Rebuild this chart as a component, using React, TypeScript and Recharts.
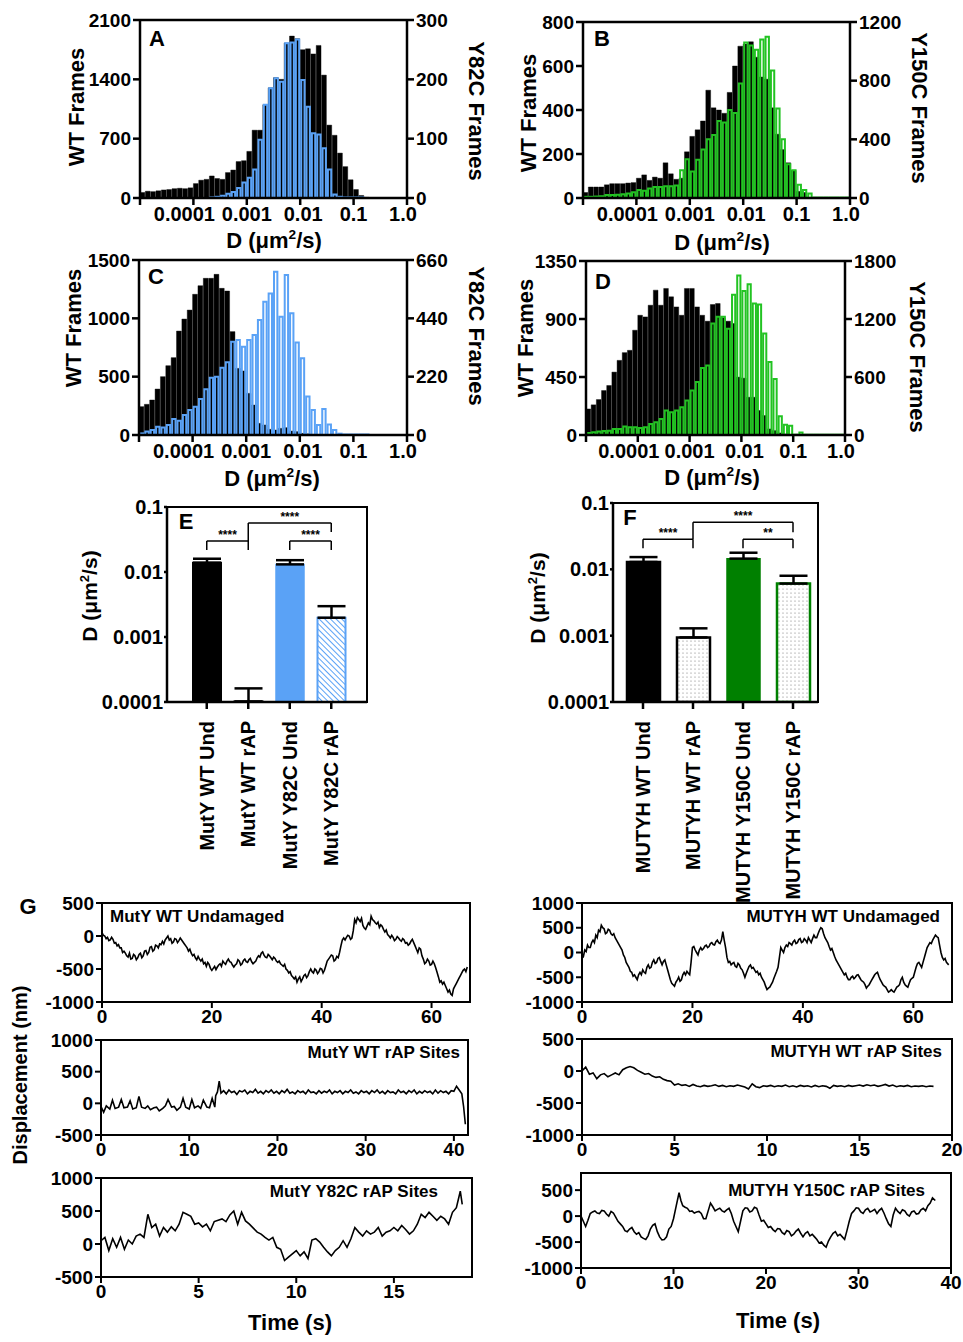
import React from 'react';
import {
  ComposedChart, BarChart, LineChart, Bar, Line, XAxis, YAxis,
  ReferenceLine, ReferenceArea, ErrorBar, Cell,
} from 'recharts';

const FONT = '"Liberation Sans", Arial, Helvetica, sans-serif';
const tick = { fill: '#000', fontSize: 19, fontWeight: 700, fontFamily: FONT };
const eTick = { fill: '#000', fontSize: 20, fontWeight: 700, fontFamily: FONT };
const gTick = { fill: '#000', fontSize: 19, fontWeight: 700, fontFamily: FONT };
const axisLine = { stroke: '#000', strokeWidth: 2.5 };

// histogram bins, 10 per decade from 1e-5 to 1 um2/s
const binTicks = [0, 10, 20, 30, 40, 50];
const binTickLabels = ['', '0.0001', '0.001', '0.01', '0.1', '1.0'];

const aWT = [65, 80, 75, 85, 95, 100, 110, 115, 110, 120, 170, 210, 220, 260, 230, 220, 300, 330, 430, 440,
  550, 800, 800, 1100, 1300, 1420, 1400, 1830, 1910, 1880, 1750, 1760, 1700, 1800, 1450, 860, 740, 530, 370, 215,
  100, 30, 8, 0, 0, 0, 0, 0, 0, 0];
const aY82C = [0, 0, 0, 0, 0, 0, 0, 0, 0, 0, 0, 0, 0, 1, 2, 4, 7, 10, 17, 26,
  34, 48, 98, 157, 185, 202, 196, 261, 262, 267, 199, 154, 109, 107, 84, 48, 6, 2, 1, 1,
  1, 1, 0, 0, 0, 0, 0, 0, 0, 0];

const bWT = [25, 50, 50, 50, 60, 65, 65, 65, 68, 70, 90, 105, 80, 95, 90, 160, 110, 85, 90, 210,
  280, 310, 350, 490, 410, 400, 385, 480, 600, 690, 700, 710, 640, 550, 540, 410, 290, 220, 160, 125,
  30, 25, 0, 0, 0, 0, 0, 0, 0, 0];
const bY150C = [8, 8, 10, 12, 20, 20, 22, 25, 30, 40, 55, 50, 65, 75, 75, 80, 80, 85, 190, 265,
  180, 260, 330, 400, 430, 525, 515, 600, 580, 780, 1060, 1040, 1010, 1080, 1100, 870, 610, 400, 230, 190,
  90, 55, 30, 3, 3, 3, 3, 3, 3, 3];

const cWT = [243, 263, 300, 394, 500, 594, 663, 891, 994, 1071, 1206, 1280, 1343, 1343, 1377, 1257, 1234, 886, 571, 549,
  357, 257, 100, 86, 49, 43, 57, 63, 34, 29, 14, 10, 5, 0, 0, 0, 0, 0, 0, 0,
  0, 0, 0, 0, 0, 0, 0, 0, 0, 0];
const cY82C = [6, 13, 19, 31, 28, 38, 60, 54, 75, 94, 107, 136, 173, 216, 220, 254, 274, 352, 358, 333,
  358, 377, 434, 503, 534, 616, 446, 603, 459, 349, 289, 145, 94, 38, 98, 40, 19, 5, 2, 2,
  2, 2, 2, 0, 0, 0, 0, 0, 0, 0];

const dWT = [202, 234, 275, 345, 384, 488, 579, 639, 657, 813, 929, 916, 1007, 1124, 1007, 1137, 1072, 994, 929, 1137,
  1137, 994, 929, 883, 1012, 1020, 909, 883, 865, 449, 441, 293, 293, 190, 151, 47, 34, 16, 8, 4,
  0, 0, 0, 0, 0, 0, 0, 0, 0, 0];
const dY150C = [21, 28, 35, 42, 45, 62, 62, 87, 80, 80, 73, 80, 114, 132, 166, 253, 235, 253, 287, 357,
  460, 547, 692, 720, 1153, 1222, 1222, 1100, 1450, 1650, 1490, 1560, 1360, 1350, 1050, 755, 580, 195, 105, 95,
  3, 25, 3, 3, 3, 3, 3, 3, 3, 3];

// bar panels E / F
const eNames = ['MutY WT Und', 'MutY WT rAP', 'MutY Y82C Und', 'MutY Y82C rAP'];
const eMeans = [0.0139, 0.000102, 0.0131, 0.00198];
const eErrUp = [0.0021, 0.00006, 0.0021, 0.001];
const fNames = ['MUTYH WT Und', 'MUTYH WT rAP', 'MUTYH Y150C Und', 'MUTYH Y150C rAP'];
const fMeans = [0.0129, 0.00094, 0.0145, 0.0061];
const fErrUp = [0.0024, 0.00035, 0.0033, 0.0019];
const logTicks = [0.0001, 0.001, 0.01, 0.1];
const logTickLabels = ['0.0001', '0.001', '0.01', '0.1'];

const eBrackets = [
  { a: 0, b: 1, y: 0.030, ya: 0.0218, yb: 0.0218, text: '****' },
  { a: 1, b: 3, y: 0.0567, ya: 0.030, yb: 0.0412, text: '****' },
  { a: 2, b: 3, y: 0.030, ya: 0.0218, yb: 0.0218, text: '****' },
];
const fBrackets = [
  { a: 0, b: 1, y: 0.0283, ya: 0.0207, yb: 0.0207, text: '****' },
  { a: 1, b: 3, y: 0.0512, ya: 0.0283, yb: 0.0361, text: '****' },
  { a: 2, b: 3, y: 0.0283, ya: 0.0207, yb: 0.0207, text: '**' },
];

// single-molecule traces [time s, displacement nm]
const g1 = [[0, 50], [0.25, 10], [0.5, 0], [0.75, -40], [1, -20], [1.25, -70], [1.5, -60], [1.75, -20], [2, -50], [2.25, -110],
  [2.5, -100], [2.75, -150], [3, -130], [3.25, -180], [3.5, -180], [3.75, -250], [4, -230], [4.25, -260], [4.5, -300], [4.75, -320],
  [5, -260], [5.25, -350], [5.5, -340], [5.75, -280], [6, -300], [6.25, -360], [6.5, -330], [6.75, -280], [7, -260], [7.25, -330],
  [7.5, -300], [7.75, -230], [8, -220], [8.25, -280], [8.5, -250], [8.75, -170], [9, -160], [9.25, -230], [9.5, -210], [9.75, -140],
  [10, -150], [10.25, -180], [10.5, -120], [10.75, -130], [11, -80], [11.25, -120], [11.5, -60], [11.75, -30], [12, 0], [12.25, -60],
  [12.5, -40], [12.75, -110], [13, -90], [13.25, -40], [13.5, -50], [13.75, -100], [14, -70], [14.25, -30], [14.5, -60], [14.75, -90],
  [15, -120], [15.25, -150], [15.5, -180], [15.75, -230], [16, -200], [16.25, -260], [16.5, -300], [16.75, -280], [17, -330], [17.25, -360],
  [17.5, -310], [17.75, -350], [18, -380], [18.25, -350], [18.5, -420], [18.75, -400], [19, -460], [19.25, -400], [19.5, -430], [19.75, -490],
  [20, -520], [20.25, -490], [20.5, -460], [20.75, -510], [21, -470], [21.25, -440], [21.5, -420], [21.75, -460], [22, -380], [22.25, -410],
  [22.5, -430], [22.75, -380], [23, -350], [23.25, -390], [23.5, -400], [23.75, -440], [24, -470], [24.25, -440], [24.5, -420], [24.75, -360],
  [25, -380], [25.25, -440], [25.5, -420], [25.75, -370], [26, -350], [26.25, -390], [26.5, -400], [26.75, -360], [27, -340], [27.25, -390],
  [27.5, -420], [27.75, -400], [28, -380], [28.25, -330], [28.5, -300], [28.75, -320], [29, -260], [29.25, -240], [29.5, -290], [29.75, -320],
  [30, -330], [30.25, -280], [30.5, -300], [30.75, -330], [31, -360], [31.25, -320], [31.5, -340], [31.75, -380], [32, -400], [32.25, -380],
  [32.5, -420], [32.75, -440], [33, -460], [33.25, -430], [33.5, -500], [33.75, -520], [34, -560], [34.25, -540], [34.5, -600], [34.75, -620],
  [35, -650], [35.25, -620], [35.5, -700], [35.75, -650], [36, -620], [36.25, -690], [36.5, -650], [36.75, -600], [37, -580], [37.25, -630],
  [37.5, -600], [37.75, -540], [38, -500], [38.25, -540], [38.5, -560], [38.75, -500], [39, -520], [39.25, -570], [39.5, -540], [39.75, -490],
  [40, -500], [40.25, -560], [40.5, -520], [40.75, -450], [41, -380], [41.25, -350], [41.5, -320], [41.75, -290], [42, -300], [42.25, -380],
  [42.5, -360], [42.75, -310], [43, -330], [43.25, -250], [43.5, -150], [43.75, -60], [44, -30], [44.25, -60], [44.5, -20], [44.75, 10],
  [45, 0], [45.25, -50], [45.5, -30], [45.75, 80], [46, 250], [46.25, 200], [46.5, 280], [46.75, 250], [47, 220], [47.25, 270],
  [47.5, 160], [47.75, 120], [48, 100], [48.25, 150], [48.5, 200], [48.75, 170], [49, 300], [49.25, 250], [49.5, 230], [49.75, 200],
  [50, 180], [50.25, 210], [50.5, 130], [50.75, 170], [51, 150], [51.25, 100], [51.5, 60], [51.75, 90], [52, 20], [52.25, 0],
  [52.5, -30], [52.75, 10], [53, -20], [53.25, -70], [53.5, -50], [53.75, -10], [54, -30], [54.25, -60], [54.5, -80], [54.75, -40],
  [55, -60], [55.25, -110], [55.5, -100], [55.75, -140], [56, -120], [56.25, -80], [56.5, -50], [56.75, -100], [57, -150], [57.25, -200],
  [57.5, -250], [57.75, -180], [58, -200], [58.25, -300], [58.5, -350], [58.75, -420], [59, -400], [59.25, -350], [59.5, -380], [59.75, -440],
  [60, -430], [60.25, -380], [60.5, -420], [60.75, -480], [61, -550], [61.25, -620], [61.5, -700], [61.75, -680], [62, -730], [62.25, -700],
  [62.5, -750], [62.75, -800], [63, -850], [63.25, -820], [63.5, -880], [63.75, -900], [64, -800], [64.25, -760], [64.5, -720], [64.75, -680],
  [65, -640], [65.25, -600], [65.5, -560], [65.75, -520], [66, -500], [66.25, -540], [66.5, -470]];

const g2 = [[0, -50], [0.3, -140], [0.6, -40], [1, -90], [1.3, 50], [1.6, -80], [2, -60], [2.3, 60], [2.6, -70], [3, -60],
  [3.3, 40], [3.6, -90], [4, -70], [4.3, 110], [4.6, -60], [5, -80], [5.3, -40], [5.6, -100], [6, -70], [6.3, -60],
  [6.6, -120], [7, -80], [7.3, -40], [7.6, 60], [8, -60], [8.3, -50], [8.6, -110], [9, -60], [9.3, 80], [9.6, -60],
  [10, -90], [10.3, 60], [10.6, -70], [11, -40], [11.3, -80], [11.6, 50], [12, -60], [12.3, -70], [12.6, 80], [12.9, -60],
  [13, 120], [13.2, 180], [13.4, 350], [13.6, 160], [13.9, 200], [14.2, 150], [14.5, 210], [14.8, 170], [15.1, 190], [15.4, 140],
  [15.7, 200], [16, 180], [16.3, 210], [16.6, 150], [16.9, 190], [17.2, 170], [17.5, 220], [17.8, 160], [18.1, 190], [18.4, 150],
  [18.7, 200], [19, 170], [19.3, 210], [19.6, 160], [19.9, 190], [20.2, 150], [20.5, 200], [20.8, 170], [21.1, 220], [21.4, 160],
  [21.7, 180], [22, 150], [22.3, 200], [22.6, 170], [22.9, 190], [23.2, 150], [23.5, 210], [23.8, 170], [24.1, 180], [24.4, 150],
  [24.7, 200], [25, 160], [25.3, 190], [25.6, 170], [25.9, 210], [26.2, 150], [26.5, 190], [26.8, 170], [27.1, 200], [27.4, 150],
  [27.7, 190], [28, 170], [28.3, 210], [28.6, 160], [28.9, 180], [29.2, 150], [29.5, 200], [29.8, 170], [30.1, 190], [30.4, 150],
  [30.7, 200], [31, 170], [31.3, 210], [31.6, 160], [31.9, 190], [32.2, 150], [32.5, 200], [32.8, 170], [33.1, 180], [33.4, 150],
  [33.7, 210], [34, 170], [34.3, 190], [34.6, 150], [34.9, 200], [35.2, 170], [35.5, 210], [35.8, 150], [36.1, 190], [36.4, 160],
  [36.7, 200], [37, 170], [37.3, 190], [37.6, 150], [37.9, 210], [38.2, 160], [38.5, 200], [38.8, 170], [39.1, 190], [39.4, 150],
  [39.7, 200], [40, 190], [40.3, 270], [40.6, 210], [40.9, 150], [41.1, -50], [41.3, -330]];

const g3 = [[0, 50], [0.2, 100], [0.4, -100], [0.6, 80], [0.8, -50], [1, 100], [1.2, -80], [1.4, 60], [1.6, 0], [1.8, 120],
  [2, 150], [2.2, 100], [2.4, 450], [2.6, 250], [2.8, 300], [3, 120], [3.2, 250], [3.4, 180], [3.6, 260], [3.8, 200],
  [4, 300], [4.2, 480], [4.4, 450], [4.6, 420], [4.8, 300], [5, 320], [5.2, 260], [5.4, 300], [5.6, 200], [5.8, 340],
  [6, 360], [6.2, 380], [6.4, 340], [6.6, 440], [6.8, 500], [7, 300], [7.2, 480], [7.4, 350], [7.6, 300], [7.8, 240],
  [8, 180], [8.2, 150], [8.4, 100], [8.6, 60], [8.8, 100], [9, -50], [9.2, -80], [9.4, -250], [9.6, -200], [9.8, -150],
  [10, -100], [10.2, -180], [10.4, -120], [10.6, -220], [10.8, 60], [11, 80], [11.2, 30], [11.4, -50], [11.6, -120], [11.8, -180],
  [12, -100], [12.2, -50], [12.4, 50], [12.6, -50], [12.8, 80], [13, 250], [13.2, 180], [13.4, 120], [13.6, 200], [13.8, 150],
  [14, 180], [14.2, 250], [14.4, 120], [14.6, 180], [14.8, 200], [15, 250], [15.2, 200], [15.4, 280], [15.6, 220], [15.8, 150],
  [16, 200], [16.2, 300], [16.4, 450], [16.6, 400], [16.8, 480], [17, 420], [17.2, 360], [17.4, 420], [17.6, 380], [17.8, 300],
  [18, 480], [18.2, 550], [18.4, 800], [18.5, 600]];

const g4 = [[0, -50], [0.25, -80], [0.5, 50], [0.75, 20], [1, 150], [1.25, 100], [1.5, 100], [1.75, 200], [2, 250], [2.25, 200],
  [2.5, 350], [2.75, 300], [3, 450], [3.25, 420], [3.5, 550], [3.75, 500], [4, 480], [4.25, 380], [4.5, 400], [4.75, 470],
  [5, 450], [5.25, 380], [5.5, 350], [5.75, 380], [6, 300], [6.25, 250], [6.5, 200], [6.75, 150], [7, 100], [7.25, 50],
  [7.5, -50], [7.75, -100], [8, -200], [8.25, -250], [8.5, -300], [8.75, -380], [9, -400], [9.25, -480], [9.5, -450], [9.75, -500],
  [10, -550], [10.25, -450], [10.5, -400], [10.75, -450], [11, -350], [11.25, -400], [11.5, -420], [11.75, -300], [12, -250], [12.25, -320],
  [12.5, -300], [12.75, -200], [13, -150], [13.25, -220], [13.5, -200], [13.75, -120], [14, -100], [14.25, -180], [14.5, -250], [14.75, -180],
  [15, -150], [15.25, -250], [15.5, -350], [15.75, -450], [16, -550], [16.25, -620], [16.5, -650], [16.75, -680], [17, -600], [17.25, -560],
  [17.5, -500], [17.75, -580], [18, -550], [18.25, -450], [18.5, -400], [18.75, -450], [19, -380], [19.25, -420], [19.5, -450], [19.75, -200],
  [20, 100], [20.25, 120], [20.5, 50], [20.75, 0], [21, -50], [21.25, 50], [21.5, 100], [21.75, 50], [22, 80], [22.25, 130],
  [22.5, 150], [22.75, 100], [23, 120], [23.25, 180], [23.5, 200], [23.75, 160], [24, 150], [24.25, 220], [24.5, 250], [24.75, 200],
  [25, 180], [25.25, 250], [25.5, 420], [25.75, 250], [26, 100], [26.25, -100], [26.5, -200], [26.75, -180], [27, -250], [27.25, -220],
  [27.5, -200], [27.75, -280], [28, -300], [28.25, -220], [28.5, -250], [28.75, -320], [29, -350], [29.25, -420], [29.5, -500], [29.75, -420],
  [30, -350], [30.25, -280], [30.5, -250], [30.75, -320], [31, -300], [31.25, -350], [31.5, -400], [31.75, -380], [32, -450], [32.25, -420],
  [32.5, -500], [32.75, -550], [33, -600], [33.25, -680], [33.5, -750], [33.75, -720], [34, -700], [34.25, -650], [34.5, -600], [34.75, -520],
  [35, -450], [35.25, -380], [35.5, -300], [35.75, -100], [36, 100], [36.25, 50], [36.5, 0], [36.75, 100], [37, 150], [37.25, 120],
  [37.5, 200], [37.75, 180], [38, 150], [38.25, 220], [38.5, 250], [38.75, 180], [39, 200], [39.25, 260], [39.5, 280], [39.75, 200],
  [40, 220], [40.25, 280], [40.5, 250], [40.75, 200], [41, 300], [41.25, 250], [41.5, 200], [41.75, 280], [42, 350], [42.25, 300],
  [42.5, 300], [42.75, 380], [43, 450], [43.25, 500], [43.5, 480], [43.75, 380], [44, 300], [44.25, 250], [44.5, 200], [44.75, 120],
  [45, 50], [45.25, 80], [45.5, 0], [45.75, -80], [46, -150], [46.25, -200], [46.5, -250], [46.75, -300], [47, -350], [47.25, -400],
  [47.5, -450], [47.75, -420], [48, -500], [48.25, -550], [48.5, -550], [48.75, -500], [49, -480], [49.25, -530], [49.5, -500], [49.75, -460],
  [50, -450], [50.25, -500], [50.5, -550], [50.75, -580], [51, -600], [51.25, -650], [51.5, -720], [51.75, -680], [52, -650], [52.25, -600],
  [52.5, -550], [52.75, -500], [53, -450], [53.25, -420], [53.5, -400], [53.75, -480], [54, -550], [54.25, -600], [54.5, -650], [54.75, -680],
  [55, -700], [55.25, -750], [55.5, -800], [55.75, -780], [56, -750], [56.25, -780], [56.5, -800], [56.75, -750], [57, -700], [57.25, -680],
  [57.5, -650], [57.75, -550], [58, -500], [58.25, -600], [58.5, -650], [58.75, -680], [59, -700], [59.25, -620], [59.5, -550], [59.75, -520],
  [60, -500], [60.25, -400], [60.5, -300], [60.75, -220], [61, -200], [61.25, -250], [61.5, -300], [61.75, -200], [62, -100], [62.25, 0],
  [62.5, 100], [62.75, 150], [63, 200], [63.25, 180], [63.5, 250], [63.75, 300], [64, 350], [64.25, 320], [64.5, 300], [64.75, 150],
  [65, 0], [65.25, -100], [65.5, -150], [65.75, -120], [66, -200], [66.4, -250]];

const g5 = [[0, 0], [0.2, 60], [0.4, -50], [0.6, -30], [0.8, -120], [1, -60], [1.2, -40], [1.4, -90], [1.6, -60], [1.8, -30],
  [2, -60], [2.2, 20], [2.4, 50], [2.6, 70], [2.8, 50], [3, 10], [3.2, -20], [3.4, -50], [3.6, -40], [3.8, -80],
  [4, -100], [4.2, -90], [4.4, -130], [4.6, -150], [4.8, -160], [5, -220], [5.2, -200], [5.4, -225], [5.6, -215], [5.8, -240],
  [6, -210], [6.2, -235], [6.4, -245], [6.6, -225], [6.8, -240], [7, -230], [7.2, -215], [7.4, -240], [7.6, -225], [7.8, -245],
  [8, -230], [8.2, -240], [8.4, -220], [8.6, -235], [8.8, -250], [9, -280], [9.2, -200], [9.4, -245], [9.6, -260], [9.8, -230],
  [10, -240], [10.2, -225], [10.4, -245], [10.6, -230], [10.8, -240], [11, -220], [11.2, -245], [11.4, -230], [11.6, -250], [11.8, -225],
  [12, -240], [12.2, -230], [12.4, -250], [12.6, -225], [12.8, -245], [13, -230], [13.2, -240], [13.4, -270], [13.6, -225], [13.8, -240],
  [14, -230], [14.2, -245], [14.4, -225], [14.6, -240], [14.8, -230], [15, -220], [15.2, -235], [15.4, -215], [15.6, -230], [15.8, -220],
  [16, -240], [16.2, -225], [16.4, -210], [16.6, -235], [16.8, -220], [17, -245], [17.2, -230], [17.4, -240], [17.6, -225], [17.8, -245],
  [18, -235], [18.2, -240], [18.4, -230], [18.6, -245], [18.8, -235], [19, -240]];

const g6 = [[0, 0], [0.25, -100], [0.5, -200], [0.75, -80], [1, 50], [1.25, 80], [1.5, 100], [1.75, 60], [2, 50], [2.25, 110],
  [2.5, 100], [2.75, 40], [3, 0], [3.25, 90], [3.5, 60], [3.75, -20], [4, -100], [4.25, -150], [4.5, -200], [4.75, -280],
  [5, -300], [5.25, -250], [5.5, -220], [5.75, -300], [6, -350], [6.25, -320], [6.5, -400], [6.75, -430], [7, -450], [7.25, -380],
  [7.5, -250], [7.75, -180], [8, -150], [8.25, -300], [8.5, -400], [8.75, -460], [9, -450], [9.25, -400], [9.5, -250], [9.75, -200],
  [10, -50], [10.3, 200], [10.6, 450], [10.8, 300], [11, 200], [11.25, 170], [11.5, 150], [11.75, 90], [12, 100], [12.25, 60],
  [12.5, 80], [12.75, 90], [13, 50], [13.25, -50], [13.5, -50], [13.75, 100], [14, 250], [14.25, 180], [14.5, 100], [14.75, 130],
  [15, 150], [15.25, 100], [15.5, 80], [15.75, 120], [16, 150], [16.25, 50], [16.5, -100], [16.75, -200], [17, -300], [17.25, -100],
  [17.5, 100], [17.75, 160], [18, 150], [18.25, 80], [18.5, 100], [18.75, 170], [19, 150], [19.25, 20], [19.5, -100], [19.75, -80],
  [20, -150], [20.25, -220], [20.5, -200], [20.75, -260], [21, -300], [21.25, -240], [21.5, -250], [21.75, -320], [22, -350], [22.25, -280],
  [22.5, -300], [22.75, -380], [23, -350], [23.25, -290], [23.5, -250], [23.75, -330], [24, -400], [24.25, -330], [24.5, -300], [24.75, -380],
  [25, -350], [25.25, -400], [25.5, -450], [25.75, -520], [26, -500], [26.25, -560], [26.5, -600], [26.75, -480], [27, -400], [27.25, -330],
  [27.5, -300], [27.75, -380], [28, -350], [28.25, -400], [28.5, -450], [28.75, -280], [29, -100], [29.25, 50], [29.5, 100], [29.75, 160],
  [30, 150], [30.25, 80], [30.5, 50], [30.75, 120], [31, 150], [31.25, 80], [31.5, 100], [31.75, 130], [32, 50], [32.25, 110],
  [32.5, 150], [32.75, 60], [33, -50], [33.25, -150], [33.5, -200], [33.75, 20], [34, 150], [34.25, 90], [34.5, 50], [34.75, 120],
  [35, 100], [35.25, 30], [35.5, 0], [35.75, 80], [36, 100], [36.25, 40], [36.5, 50], [36.75, 120], [37, 150], [37.25, 100],
  [37.5, 200], [37.75, 250], [38, 350], [38.3, 300]];

const BLUE = '#5aa2f6';
const LGREEN = '#22c322';
const DGREEN = '#008000';

const SIDE = 80, TOP = 12, XH = 32;

// x tick label nudges used by the histogram axis (first label is pushed left like the original)
const binTickNudge = [0, -9, 0, 3, 0, -4];

const BinTick = ({ x, y, payload }: any) => {
  const i = binTicks.indexOf(payload.value);
  return (
    <text x={x + binTickNudge[i]} y={y} dy="0.71em" textAnchor="middle" fill="#000" fontSize={20}
      fontWeight={700} fontFamily={FONT}>{binTickLabels[i]}</text>
  );
};

function Hist({ box, wt, mut, color, left, right }: any) {
  const [l, t, r, b] = box;
  const pw = r - l;
  const data = wt.map((v: number, i: number) => ({ bin: i + 0.5, wt: v, mut: mut[i] }));
  const lmax = left[left.length - 1];
  const rmax = right[right.length - 1];
  return (
    <div style={{ position: 'absolute', left: l - SIDE, top: t - TOP }}>
      <ComposedChart width={pw + 2 * SIDE} height={b - t + TOP + XH} data={data}
        margin={{ top: TOP, right: 0, bottom: 0, left: 0 }}>
        <XAxis xAxisId="wt" type="number" dataKey="bin" domain={[0, 50]} ticks={binTicks} interval={0}
          height={XH} tick={<BinTick />} axisLine={axisLine} tickLine={axisLine} tickSize={7} />
        <XAxis xAxisId="mut" type="number" dataKey="bin" domain={[0, 50]} orientation="top" height={0} hide />
        <YAxis yAxisId="wt" type="number" domain={[0, lmax]} ticks={left} interval={0} width={SIDE}
          tick={tick} axisLine={axisLine} tickLine={axisLine} tickSize={7} />
        <YAxis yAxisId="mut" orientation="right" type="number" domain={[0, rmax]} ticks={right} interval={0}
          width={SIDE} tick={tick} axisLine={axisLine} tickLine={axisLine} tickSize={7} />
        <Bar xAxisId="wt" yAxisId="wt" dataKey="wt" fill="#000" stroke="#000" strokeWidth={0.4}
          barSize={pw / 50} isAnimationActive={false} />
        <Bar xAxisId="mut" yAxisId="mut" dataKey="mut" fill="none" stroke={color} strokeWidth={2}
          barSize={pw / 50 - 2} isAnimationActive={false} />
        <ReferenceLine xAxisId="wt" yAxisId="wt" y={lmax} stroke="#000" strokeWidth={2.5} />
      </ComposedChart>
    </div>
  );
}

const CatTick = ({ x, y, payload }: any) => (
  <text x={x} y={y + 10} transform={`rotate(-90 ${x} ${y + 10})`} textAnchor="end" dominantBaseline="central"
    fill="#000" fontSize={20} fontWeight={700} fontFamily={FONT}>{payload.value}</text>
);

function BarPanel({ box, names, means, errs, fills, strokes, widths, pad, barSize, xh, brackets }: any) {
  const [l, t, r, b] = box;
  const rows = names.map((n: string, i: number) => ({ name: n, d: means[i], err: [0, errs[i]] }));
  return (
    <>
      <div style={{ position: 'absolute', left: l - SIDE, top: t - TOP }}>
        <BarChart width={r - l + SIDE + 10} height={b - t + TOP + xh} data={rows}
          margin={{ top: TOP, right: 10, bottom: 0, left: 0 }}>
          <XAxis dataKey="name" type="category" padding={pad} interval={0} height={xh} tick={<CatTick />}
            axisLine={axisLine} tickLine={axisLine} tickSize={7} />
          <YAxis type="number" scale="log" domain={[0.0001, 0.1]} allowDataOverflow ticks={logTicks} interval={0}
            tickFormatter={(v) => logTickLabels[logTicks.indexOf(v)]} width={SIDE} tick={eTick}
            axisLine={axisLine} tickLine={axisLine} tickSize={3} tickMargin={1} />
          <Bar dataKey="d" barSize={barSize} isAnimationActive={false}>
            {rows.map((_: any, i: number) => (
              <Cell key={i} fill={fills[i]} stroke={strokes[i]} strokeWidth={widths[i]} />
            ))}
            <ErrorBar dataKey="err" width={14} stroke="#000" strokeWidth={2.5} direction="y" />
          </Bar>
          {brackets.map((k: any, i: number) => (
            <React.Fragment key={i}>
              <ReferenceLine segment={[{ x: names[k.a], y: k.y }, { x: names[k.b], y: k.y }]} stroke="#000" strokeWidth={1.5}
                label={{ value: k.text, position: 'top', offset: 2, fontSize: 12, fontWeight: 700, fill: '#000', fontFamily: FONT }} />
              <ReferenceLine segment={[{ x: names[k.a], y: k.y }, { x: names[k.a], y: k.ya }]} stroke="#000" strokeWidth={1.5} />
              <ReferenceLine segment={[{ x: names[k.b], y: k.y }, { x: names[k.b], y: k.yb }]} stroke="#000" strokeWidth={1.5} />
            </React.Fragment>
          ))}
        </BarChart>
      </div>
      {/* plot frame */}
      <div style={{
        position: 'absolute', left: l - 1.25, top: t - 1.25, width: r - l + 2.5, height: b - t + 2.5,
        border: '2.5px solid #000', boxSizing: 'border-box', pointerEvents: 'none',
      }} />
    </>
  );
}

const TY = 76, TXH = 30, TT = 12;

function Trace({ box, pts, xMax, xTicks, yDom, yTicks }: any) {
  const [l, t, r, b] = box;
  const data = pts.map(([tt, y]: number[]) => ({ t: tt, y }));
  return (
    <div style={{ position: 'absolute', left: l - TY, top: t - TT }}>
      <LineChart width={r - l + TY + 12} height={b - t + TT + TXH} data={data}
        margin={{ top: TT, right: 12, bottom: 0, left: 0 }}>
        <XAxis type="number" dataKey="t" domain={[0, xMax]} ticks={xTicks} interval={0} allowDataOverflow
          height={TXH} tick={gTick} axisLine={{ stroke: '#000', strokeWidth: 2 }} tickLine={{ stroke: '#000', strokeWidth: 2 }} tickSize={6} />
        <YAxis type="number" domain={yDom} ticks={yTicks} interval={0} allowDataOverflow width={TY}
          tick={gTick} axisLine={{ stroke: '#000', strokeWidth: 2 }} tickLine={{ stroke: '#000', strokeWidth: 2 }} tickSize={6} />
        <ReferenceArea x1={0} x2={xMax} y1={yDom[0]} y2={yDom[1]} fill="none" stroke="#000" strokeWidth={2} />
        <Line type="linear" dataKey="y" stroke="#000" strokeWidth={1.6} dot={false} isAnimationActive={false} />
      </LineChart>
    </div>
  );
}

function Txt({ x, y, size = 22, rot = 0, align = 'c', children }: any) {
  const tx = align === 'c' ? '-50%' : align === 'r' ? '-100%' : '0';
  return (
    <div style={{
      position: 'absolute', left: x, top: y, transform: `translate(${tx},-50%) rotate(${rot}deg)`,
      fontFamily: FONT, fontWeight: 700, fontSize: size, lineHeight: 1, whiteSpace: 'nowrap', color: '#000',
    }}>{children}</div>
  );
}

const Dunit = () => (
  <>D (μm<span style={{ fontSize: '0.62em', verticalAlign: '0.62em' }}>2</span>/s)</>
);

export default function App() {
  return (
    <div style={{ position: 'absolute', left: 0, top: 0, width: 963, height: 1342, background: '#fff', overflow: 'hidden' }}>
      <svg width={0} height={0} style={{ position: 'absolute' }}>
        <defs>
          <pattern id="hatchBlue" width="4" height="4" patternUnits="userSpaceOnUse" patternTransform="rotate(-45)">
            <rect width="4" height="4" fill="#fff" />
            <line x1="0" y1="0" x2="0" y2="4" stroke={BLUE} strokeWidth="2" />
          </pattern>
          <pattern id="dots" width="4" height="4" patternUnits="userSpaceOnUse">
            <rect width="4" height="4" fill="#fff" />
            <circle cx="2" cy="2" r="0.6" fill="#777" />
          </pattern>
        </defs>
      </svg>

      <Hist box={[140, 20, 407, 198]} wt={aWT} mut={aY82C} color={BLUE} left={[0, 700, 1400, 2100]} right={[0, 100, 200, 300]} />
      <Hist box={[583, 22, 850, 198]} wt={bWT} mut={bY150C} color={LGREEN} left={[0, 200, 400, 600, 800]} right={[0, 400, 800, 1200]} />
      <Hist box={[139, 260, 407, 435]} wt={cWT} mut={cY82C} color={BLUE} left={[0, 500, 1000, 1500]} right={[0, 220, 440, 660]} />
      <Hist box={[586, 261, 845, 435]} wt={dWT} mut={dY150C} color={LGREEN} left={[0, 450, 900, 1350]} right={[0, 600, 1200, 1800]} />

      <Txt x={157} y={39} size={22}>A</Txt>
      <Txt x={77} y={107} rot={-90}>WT Frames</Txt>
      <Txt x={476} y={111} rot={90}>Y82C Frames</Txt>
      <Txt x={274} y={240}><Dunit /></Txt>

      <Txt x={602} y={39} size={22}>B</Txt>
      <Txt x={529} y={113} rot={-90}>WT Frames</Txt>
      <Txt x={919} y={108} rot={90}>Y150C Frames</Txt>
      <Txt x={722} y={242}><Dunit /></Txt>

      <Txt x={156} y={277} size={22}>C</Txt>
      <Txt x={74} y={328} rot={-90}>WT Frames</Txt>
      <Txt x={476} y={336} rot={90}>Y82C Frames</Txt>
      <Txt x={272} y={478}><Dunit /></Txt>

      <Txt x={603} y={282} size={22}>D</Txt>
      <Txt x={526} y={338} rot={-90}>WT Frames</Txt>
      <Txt x={917} y={357} rot={90}>Y150C Frames</Txt>
      <Txt x={712} y={477}><Dunit /></Txt>

      <BarPanel box={[167, 507, 367, 702]} names={eNames} means={eMeans} errs={eErrUp}
        fills={['#000', '#fff', BLUE, 'url(#hatchBlue)']} strokes={['#000', '#000', BLUE, BLUE]} widths={[2, 2, 1.5, 2]}
        pad={{ left: 19, right: 15 }} barSize={28} xh={185} brackets={eBrackets} />
      <Txt x={186} y={522} size={22}>E</Txt>
      <Txt x={89} y={596} rot={-90} size={21}><Dunit /></Txt>

      <BarPanel box={[613, 503, 818, 702]} names={fNames} means={fMeans} errs={fErrUp}
        fills={['#000', 'url(#dots)', DGREEN, 'url(#dots)']} strokes={['#000', '#000', DGREEN, DGREEN]} widths={[2.5, 2.5, 1.5, 2.5]}
        pad={{ left: 5, right: 0 }} barSize={33} xh={230} brackets={fBrackets} />
      <Txt x={630} y={518} size={22}>F</Txt>
      <Txt x={537} y={598} rot={-90} size={21}><Dunit /></Txt>

      <Trace box={[102, 903, 470, 1002]} pts={g1} xMax={67} xTicks={[0, 20, 40, 60]} yDom={[-1000, 500]} yTicks={[-1000, -500, 0, 500]} />
      <Trace box={[101, 1040, 468, 1135]} pts={g2} xMax={41.6} xTicks={[0, 10, 20, 30, 40]} yDom={[-500, 1000]} yTicks={[-500, 0, 500, 1000]} />
      <Trace box={[101, 1178, 472, 1277]} pts={g3} xMax={19} xTicks={[0, 5, 10, 15]} yDom={[-500, 1000]} yTicks={[-500, 0, 500, 1000]} />
      <Trace box={[582, 903, 952, 1002]} pts={g4} xMax={67} xTicks={[0, 20, 40, 60]} yDom={[-1000, 1000]} yTicks={[-1000, -500, 0, 500, 1000]} />
      <Trace box={[582, 1039, 952, 1135]} pts={g5} xMax={20} xTicks={[0, 5, 10, 15, 20]} yDom={[-1000, 500]} yTicks={[-1000, -500, 0, 500]} />
      <Trace box={[581, 1173, 951, 1268]} pts={g6} xMax={40} xTicks={[0, 10, 20, 30, 40]} yDom={[-1000, 830]} yTicks={[-1000, -500, 0, 500]} />

      <Txt x={28} y={907} size={22}>G</Txt>
      <Txt x={20} y={1075} rot={-90} size={20}>Displacement (nm)</Txt>
      <Txt x={110} y={916} size={17} align="l">MutY WT Undamaged</Txt>
      <Txt x={460} y={1052} size={17} align="r">MutY WT rAP Sites</Txt>
      <Txt x={438} y={1191} size={17} align="r">MutY Y82C rAP Sites</Txt>
      <Txt x={940} y={916} size={17} align="r">MUTYH WT Undamaged</Txt>
      <Txt x={942} y={1051} size={17} align="r">MUTYH WT rAP Sites</Txt>
      <Txt x={925} y={1190} size={17} align="r">MUTYH Y150C rAP Sites</Txt>
      <Txt x={290} y={1323} size={22}>Time (s)</Txt>
      <Txt x={778} y={1321} size={22}>Time (s)</Txt>
    </div>
  );
}
